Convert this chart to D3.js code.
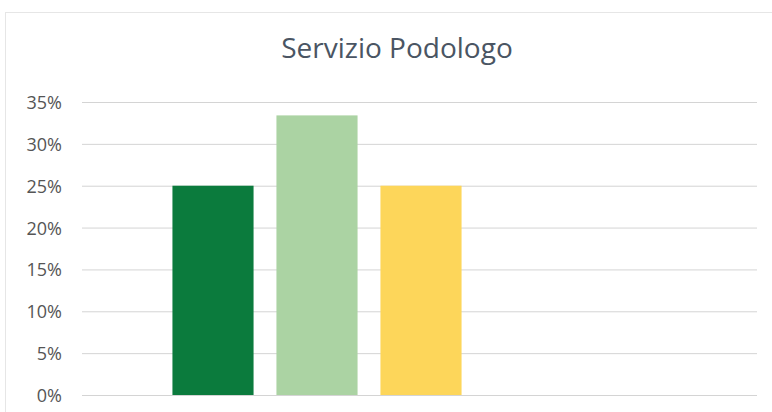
<!DOCTYPE html>
<html>
<head>
<meta charset="utf-8">
<script src="https://cdn.jsdelivr.net/npm/d3@7"></script>
<style>
  body { margin: 0; background: #fff; }
  .tick text { font-family: "Open Sans", Lato, sans-serif; }
</style>
</head>
<body>
<div class="container"></div>
<script>
var categories = ["A", "B", "C"];
var values = [0.25, 0.334, 0.25];
var colors = ["#0b7b3d", "#abd3a3", "#fdd65a"];
var yTicks = [0, 0.05, 0.10, 0.15, 0.20, 0.25, 0.30, 0.35];

var width = 772, height = 412;

var svg = d3.select(".container")
  .append("svg")
    .attr("width", width)
    .attr("height", height);

// chart frame (faint, runs off the page like the scan)
svg.append("rect")
  .attr("x", 5.5).attr("y", 12.5)
  .attr("width", 800).attr("height", 420)
  .attr("fill", "none")
  .attr("stroke", "#e6e6e6");

var y = d3.scaleLinear().domain([0, 0.35]).range([395, 102]);
var x = d3.scaleBand().domain(categories).range([161, 473])
  .paddingInner(0.22).paddingOuter(0.11);

// grid lines
svg.append("g")
  .attr("transform", "translate(82,0)")
  .call(d3.axisLeft(y).tickValues(yTicks).tickSize(-675).tickFormat(""))
  .call(g => g.select(".domain").remove())
  .call(g => g.selectAll(".tick line").attr("stroke", "#d4d4d4"));

// y labels
svg.append("g")
  .attr("transform", "translate(62,0)")
  .call(d3.axisLeft(y).tickValues(yTicks).tickSize(0).tickPadding(0)
    .tickFormat(d3.format(".0%")))
  .call(g => g.select(".domain").remove())
  .call(g => g.selectAll(".tick text")
    .attr("fill", "#555")
    .attr("dy", "0.36em")
    .style("font-size", "18px"));

svg.selectAll("rect.bar")
  .data(values)
  .enter()
  .append("rect")
  .attr("class", "bar")
  .attr("x", (d, i) => x(categories[i]))
  .attr("y", d => y(d))
  .attr("width", x.bandwidth())
  .attr("height", d => y(0) - y(d))
  .attr("fill", (d, i) => colors[i]);

svg.append("text")
  .attr("x", 397)
  .attr("y", 58)
  .attr("text-anchor", "middle")
  .style("font-family", "'Open Sans', Lato, sans-serif")
  .style("font-size", "28px")
  .attr("fill", "#4a5563")
  .text("Servizio Podologo");
</script>
</body>
</html>
